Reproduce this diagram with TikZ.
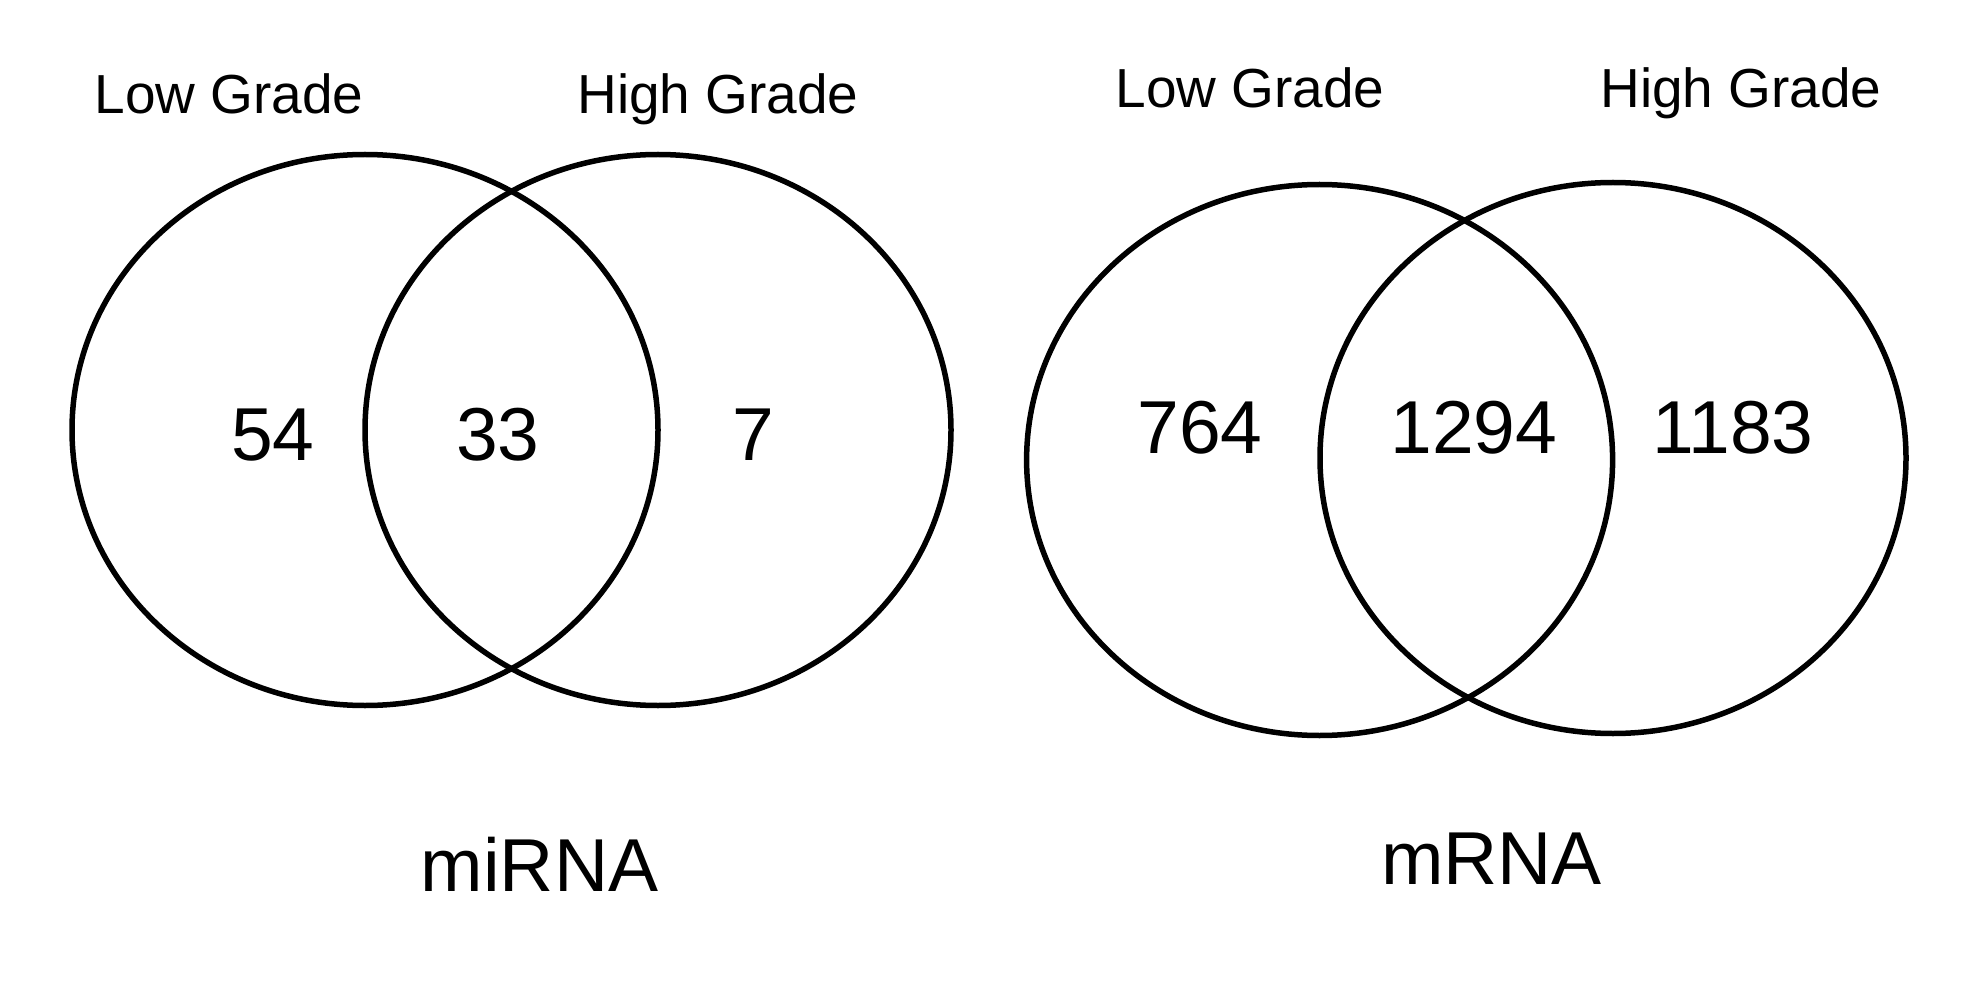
\documentclass[tikz,border=0pt]{standalone}
\usepackage{fontspec}
\setmainfont{Liberation Sans}
\usetikzlibrary{shapes.geometric}
\begin{document}
\begin{tikzpicture}[x=1pt,y=-1pt,
  setring/.style={ellipse,draw=black,line width=5.5pt,minimum width=586pt,minimum height=551pt,inner sep=0pt},
  grouplbl/.style={anchor=base,inner sep=0pt,font=\fontsize{55}{66}\selectfont},
  countlbl/.style={anchor=base,inner sep=0pt,font=\fontsize{75}{90}\selectfont},
  titlelbl/.style={anchor=base,inner sep=0pt,font=\fontsize{75}{90}\selectfont}]
\useasboundingbox[fill=white] (0,0) rectangle (1966,992);
% miRNA Venn
\node[setring] (miLow) at (365,430) {};
\node[setring] (miHigh) at (658,430) {};
\node[grouplbl] (miLowLbl) at (229,114) {Low Grade};
\node[grouplbl] (miHighLbl) at (718,114) {High Grade};
\node[countlbl] (miA) at (273,460) {54};
\node[countlbl] (miB) at (498,460) {33};
\node[countlbl] (miC) at (753,460) {7};
\node[titlelbl] (miTitle) at (539.5,891) {miRNA};
% mRNA Venn
\node[setring] (mLow) at (1319.6,460) {};
\node[setring] (mHigh) at (1613,458) {};
\node[grouplbl] (mLowLbl) at (1250,108) {Low Grade};
\node[grouplbl] (mHighLbl) at (1741,108) {High Grade};
\node[countlbl] (mA) at (1200,453) {764};
\node[countlbl] (mB) at (1474,453) {1294};
\node[countlbl] (mC) at (1733,453) {1183};
\node[titlelbl] (mTitle) at (1491.5,884) {mRNA};
\end{tikzpicture}
\end{document}
